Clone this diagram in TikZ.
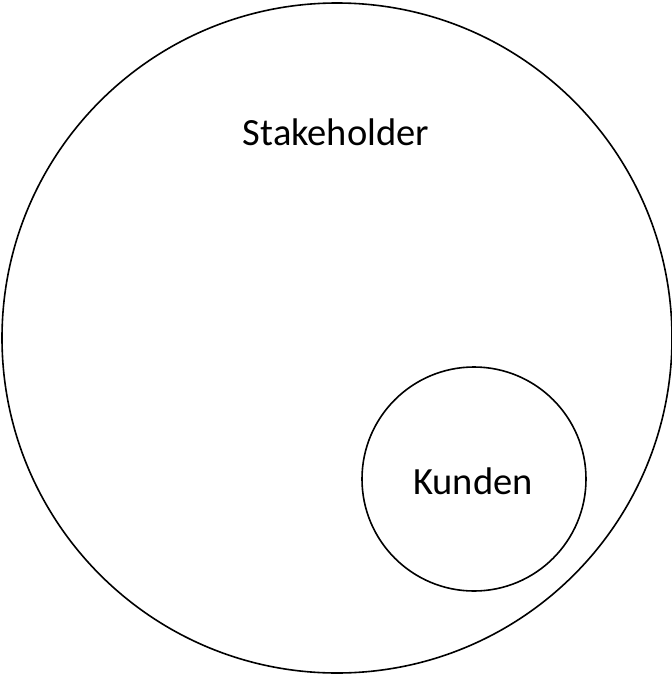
\documentclass[tikz,border=0pt]{standalone}
\usepackage{fontspec}
\setmainfont{Carlito}
\begin{document}
\begin{tikzpicture}[x=1pt,y=-1pt,
  ring/.style={draw=black,line width=1.6pt},
  lbl/.style={font=\fontsize{38.5}{41}\selectfont,inner sep=0pt}]
\useasboundingbox (0,0) rectangle (672,675);
\node[ring,circle,minimum size=670pt,inner sep=0pt] (big) at (337,338) {};
\node[ring,circle,minimum size=224pt,inner sep=0pt] (small) at (474,479) {};
\node[lbl] (stk) at (336,132) {Stakeholder};
\node[lbl] (kun) at (473,481) {Kunden};
\end{tikzpicture}
\end{document}
